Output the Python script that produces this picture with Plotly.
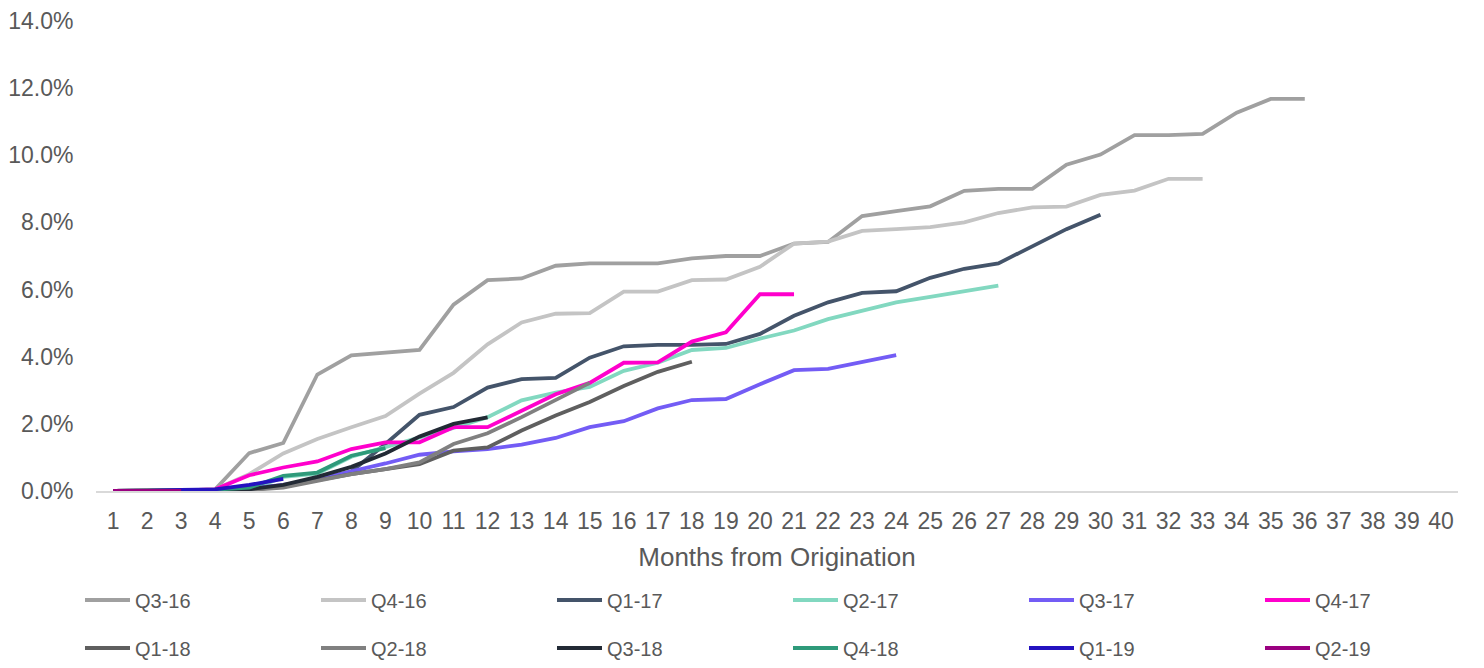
import plotly.graph_objects as go

months = list(range(1, 41))
y_ticks = [0, 2, 4, 6, 8, 10, 12, 14]

series_names = ["Q3-16", "Q4-16", "Q1-17", "Q2-17", "Q3-17", "Q4-17",
                "Q1-18", "Q2-18", "Q3-18", "Q4-18", "Q1-19", "Q2-19"]

q3_16 = [0, 0, 0.02, 0.05, 1.13, 1.43, 3.47, 4.04, 4.13, 4.2, 5.55, 6.28, 6.33, 6.71, 6.78, 6.78, 6.78, 6.93,
         7.0, 7.0, 7.37, 7.42, 8.19, 8.34, 8.48, 8.94, 9.0, 9.0, 9.72, 10.02, 10.6, 10.6, 10.64, 11.27, 11.68, 11.68]
q4_16 = [0, 0, 0.02, 0.05, 0.5, 1.12, 1.55, 1.9, 2.23, 2.9, 3.52, 4.37, 5.02, 5.28, 5.3, 5.94, 5.94, 6.28,
         6.3, 6.68, 7.37, 7.43, 7.75, 7.8, 7.86, 8.0, 8.28, 8.45, 8.47, 8.82, 8.95, 9.3, 9.3]
q1_17 = [0, 0, 0.02, 0.03, 0.08, 0.15, 0.32, 0.58, 1.4, 2.27, 2.5, 3.08, 3.33, 3.37, 3.97, 4.31, 4.35, 4.35,
         4.38, 4.68, 5.22, 5.62, 5.9, 5.95, 6.35, 6.62, 6.78, 7.3, 7.8, 8.23]
q2_17 = [0, 0, 0.02, 0.04, 0.02, 0.42, 0.52, 1.02, 1.3, 1.6, 1.88, 2.2, 2.7, 2.93, 3.1, 3.58, 3.82, 4.2,
         4.26, 4.54, 4.78, 5.12, 5.38, 5.62, 5.78, 5.95, 6.12]
q3_17 = [0, 0, 0.01, 0.02, 0.08, 0.18, 0.35, 0.58, 0.82, 1.08, 1.18, 1.25, 1.38, 1.58, 1.9, 2.08, 2.46, 2.71,
         2.74, 3.18, 3.6, 3.64, 3.85, 4.05]
q4_17 = [0, 0, 0.02, 0.05, 0.47, 0.7, 0.88, 1.25, 1.45, 1.45, 1.9, 1.9, 2.38, 2.88, 3.22, 3.82, 3.83, 4.45,
         4.73, 5.86, 5.86]
q1_18 = [0, 0, 0.01, 0.02, 0.05, 0.12, 0.32, 0.5, 0.65, 0.8, 1.2, 1.3, 1.8, 2.25, 2.65, 3.13, 3.55, 3.85]
q2_18 = [0, 0, 0.01, 0.02, 0.03, 0.1, 0.3, 0.5, 0.65, 0.85, 1.4, 1.72, 2.2, 2.72, 3.22]
q3_18 = [0, 0, 0.01, 0.02, 0.05, 0.18, 0.42, 0.72, 1.12, 1.62, 2.0, 2.19]
q4_18 = [0, 0, 0.02, 0.04, 0.1, 0.45, 0.55, 1.05, 1.28]
q1_19 = [0, 0, 0.03, 0.05, 0.18, 0.36]
q2_19 = [0, 0, 0]

series_values = [q3_16, q4_16, q1_17, q2_17, q3_17, q4_17,
                 q1_18, q2_18, q3_18, q4_18, q1_19, q2_19]
colors = ["#A0A0A0", "#C4C4C4", "#44546A", "#82D8C0", "#735CF5", "#FF00CC",
          "#5F5F5F", "#808080", "#222A35", "#2E9A7A", "#2412C0", "#9A0080"]

FONT = "Liberation Sans, Arial, sans-serif"
TXT = "#595959"

fig = go.Figure()
for i, (name, vals, col) in enumerate(zip(series_names, series_values, colors)):
    last_col = (i % 6 == 5)
    fig.add_trace(go.Scatter(
        x=months[:len(vals)], y=vals, name=name, mode="lines",
        line=dict(color=col, width=3.8),
        legend="legend" if i < 6 else "legend2",
        legendwidth=70 if last_col else None,
    ))

leg_common = dict(
    orientation="h", x=-0.01175, xanchor="left", yanchor="middle",
    entrywidth=176, entrywidthmode="pixels", itemwidth=45,
    font=dict(family=FONT, size=20, color=TXT), bgcolor="rgba(0,0,0,0)",
    traceorder="normal",
)

# the page body adds an 8px offset, so margins are trimmed by 8px on left/top
fig.update_layout(
    width=1484, height=668,
    margin=dict(l=88, r=34, t=13, b=185, autoexpand=False),
    paper_bgcolor="white", plot_bgcolor="white",
    font=dict(family=FONT, size=22, color=TXT),
    showlegend=True,
    legend=dict(y=-0.2319, **leg_common),
    legend2=dict(y=-0.334, **leg_common),
    xaxis=dict(
        range=[0.5, 40.5], tickmode="array", tickvals=months,
        ticktext=[str(m) for m in months],
        showgrid=False, zeroline=False, automargin=False,
        showline=True, linecolor="#D9D9D9", linewidth=2,
        ticks="outside", ticklen=8, tickcolor="rgba(0,0,0,0)",
        tickfont=dict(family=FONT, size=23, color=TXT),
        ticklabeloverflow="allow",
        title=dict(text="Months from Origination", standoff=15,
                   font=dict(family=FONT, size=26, color=TXT)),
        layer="below traces",
    ),
    yaxis=dict(
        range=[0, 14], tickmode="array", tickvals=y_ticks,
        ticktext=[f"{v:.1f}%" for v in y_ticks],
        showgrid=False, zeroline=False, showline=False, automargin=False,
        ticks="outside", ticklen=17, tickcolor="rgba(0,0,0,0)",
        tickfont=dict(family=FONT, size=23, color=TXT),
        ticklabeloverflow="allow",
    ),
)

fig.write_html("out.html")
